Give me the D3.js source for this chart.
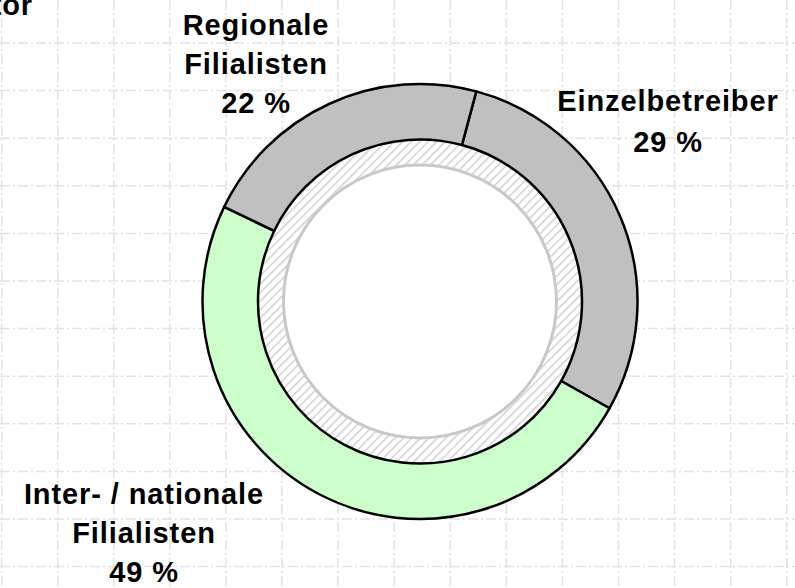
<!DOCTYPE html>
<html>
<head>
<meta charset="utf-8">
<script src="https://cdn.jsdelivr.net/npm/d3@7"></script>
<style>
  html, body { margin: 0; padding: 0; background: #fff; }
  svg { display: block; }
  text { font-family: "Liberation Sans", Arial, sans-serif; font-weight: bold; fill: #000; }
</style>
</head>
<body>
<div id="chart"></div>
<script>
// slices, clockwise from the top-right
var categories = ['Einzelbetreiber', 'Inter- / nationale Filialisten', 'Regionale Filialisten'];
var shares = [29, 49, 22];
var sliceColors = ['#c0c0c0', '#ccffcc', '#c0c0c0'];
// label lines for each slice
var labelLines = [
  ['Einzelbetreiber', '29 %'],
  ['Inter- / nationale', 'Filialisten', '49 %'],
  ['Regionale', 'Filialisten', '22 %']
];

(function(d3) {
  'use strict';
  var width = 795;
  var height = 588;
  var cx = 420, cy = 301.5;
  var outerR = 217.5, innerR = 162, coreR = 136.5;
  var startDeg = 15;

  var svg = d3.select('#chart')
    .append('svg')
    .attr('width', width)
    .attr('height', height);

  var defs = svg.append('defs');
  var hatch = defs.append('pattern')
    .attr('id', 'hatch')
    .attr('patternUnits', 'userSpaceOnUse')
    .attr('width', 6)
    .attr('height', 6)
    .attr('patternTransform', 'rotate(45)');
  hatch.append('rect').attr('width', 6).attr('height', 6).attr('fill', '#fff');
  hatch.append('line')
    .attr('x1', 0).attr('y1', 0).attr('x2', 0).attr('y2', 6)
    .attr('stroke', '#d0d0d0')
    .attr('stroke-width', 3);

  // background grid (dash-dot)
  var xStep = 56.07, yStep = 47.6;
  var xs = d3.range(1.7, width, xStep);
  var ys = d3.range(43, height, yStep);
  var grid = svg.append('g')
    .attr('stroke', '#e2e2e2')
    .attr('stroke-width', 1.5)
    .attr('stroke-dasharray', '10,3,2,3');
  grid.selectAll('.vx').data(xs).enter().append('line')
    .attr('x1', function(d) { return d; }).attr('x2', function(d) { return d; })
    .attr('y1', 0).attr('y2', height);
  grid.selectAll('.hy').data(ys).enter().append('line')
    .attr('y1', function(d) { return d; }).attr('y2', function(d) { return d; })
    .attr('x1', 0).attr('x2', width);

  var g = svg.append('g')
    .attr('transform', 'translate(' + cx + ',' + cy + ')');

  // hatched inner ring and core circle
  g.append('path')
    .attr('d', d3.arc().innerRadius(coreR).outerRadius(innerR)
      .startAngle(0).endAngle(2 * Math.PI)())
    .attr('fill', 'url(#hatch)');
  g.append('circle')
    .attr('r', coreR)
    .attr('fill', '#fff')
    .attr('stroke', '#c8c8c8')
    .attr('stroke-width', 3);

  var pie = d3.pie()
    .value(function(d) { return d; })
    .sort(null)
    .startAngle(startDeg * Math.PI / 180)
    .endAngle(startDeg * Math.PI / 180 + 2 * Math.PI);

  var arc = d3.arc()
    .innerRadius(innerR)
    .outerRadius(outerR);

  g.selectAll('path.slice')
    .data(pie(shares))
    .enter()
    .append('path')
    .attr('class', 'slice')
    .attr('d', arc)
    .attr('fill', function(d, i) { return sliceColors[i]; })
    .attr('stroke', '#000')
    .attr('stroke-width', 2.5)
    .attr('stroke-linejoin', 'round');

  // label placement (manual, like the original chart)
  var labelPos = [
    { x: 668, y: 111, dy: 41 },
    { x: 144, y: 503.5, dy: 39.2 },
    { x: 256, y: 35, dy: 39 }
  ];
  labelLines.forEach(function(lines, i) {
    var t = svg.append('text')
      .attr('text-anchor', 'middle')
      .style('font-size', '29px')
      .style('letter-spacing', '0.9px');
    lines.forEach(function(s, k) {
      t.append('tspan')
        .attr('x', labelPos[i].x)
        .attr('y', labelPos[i].y + k * labelPos[i].dy)
        .text(s);
    });
  });

  // cut-off heading at top left
  svg.append('text')
    .attr('x', 33)
    .attr('y', 15)
    .attr('text-anchor', 'end')
    .style('font-size', '29px')
    .style('letter-spacing', '0.9px')
    .text('tor');
})(window.d3);
</script>
</body>
</html>
